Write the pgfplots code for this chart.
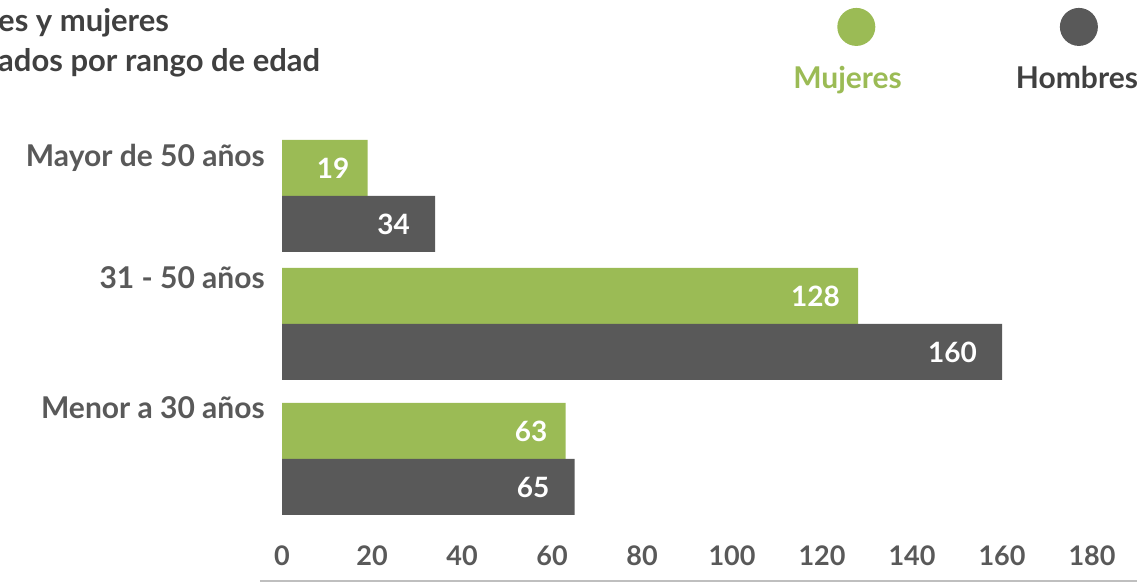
\documentclass[border=0pt]{standalone}
\usepackage{pgfplots}
\pgfplotsset{compat=1.18}
\usepackage{fontspec}
\setmainfont{Lato}
\definecolor{cgreen}{HTML}{9BBB55}
\definecolor{cgray}{HTML}{595959}
\definecolor{ctext}{HTML}{404040}
\begin{document}
\begin{tikzpicture}
\useasboundingbox (0,0) rectangle (1142pt,585pt);
\node[anchor=base west, inner sep=0pt, font=\fontsize{31}{31}\selectfont\bfseries, text=ctext] at (-2pt,553pt) {es y mujeres};
\node[anchor=base west, inner sep=0pt, font=\fontsize{31}{31}\selectfont\bfseries, text=ctext] at (-2pt,513pt) {ados por rango de edad};
\begin{axis}[
  at={(282pt,45pt)}, anchor=south west,
  x=4.5pt, y=1pt,
  xmin=0, xmax=180, ymin=-540, ymax=-130,
  scale only axis,
  clip=false,
  axis x line*=bottom, axis y line*=left,
  axis line style={draw=none},
  tick style={draw=none},
  major tick length=0pt,
  xtick={0,20,...,180},
  ytick={-167,-289,-419},
  yticklabels={Mayor de 50 años, 31 - 50 años, Menor a 30 años},
  /pgf/number format/assume math mode=true,
  xticklabel style={font=\fontsize{27}{27}\selectfont\bfseries, text=cgray, anchor=north, inner sep=0pt, yshift=-6pt},
  yticklabel style={font=\fontsize{30}{30}\selectfont\bfseries, text=cgray, anchor=base east, inner sep=0pt, xshift=-17pt},
  xbar,
  bar width=56,
  nodes near coords,
  nodes near coords style={font=\fontsize{28}{28}\selectfont\bfseries, text=white, anchor=east, inner sep=0pt},
  legend columns=2,
  legend style={draw=none, fill=none, at={(0.631,1.127)}, anchor=west, inner sep=0pt,
    nodes={inner sep=0pt}, column sep=0pt,
    /tikz/every even column/.append style={column sep=114pt},
    font=\fontsize{30}{30}\selectfont\bfseries},
]
\addplot[fill=cgreen, draw=none, bar shift=0pt,
  nodes near coords style={xshift=-18pt},
  legend image code/.code={\path (0,0); \fill[overlay, cgreen] (63pt,51pt) circle (19pt);}]
  coordinates {(19,-168) (128,-296) (63,-431)};
\addlegendentry{\textcolor{cgreen}{Mujeres}}
\addplot[fill=cgray, draw=none, bar shift=0pt,
  nodes near coords style={xshift=-25pt},
  legend image code/.code={\path (0,0); \fill[overlay, cgray] (63pt,51pt) circle (19pt);}]
  coordinates {(34,-224) (160,-352) (65,-487)};
\addlegendentry{\textcolor{ctext}{Hombres}}
\draw[black!25, line width=1.5pt] (axis cs:-4.9,-581) -- (axis cs:190,-581);
\end{axis}
\end{tikzpicture}
\end{document}
